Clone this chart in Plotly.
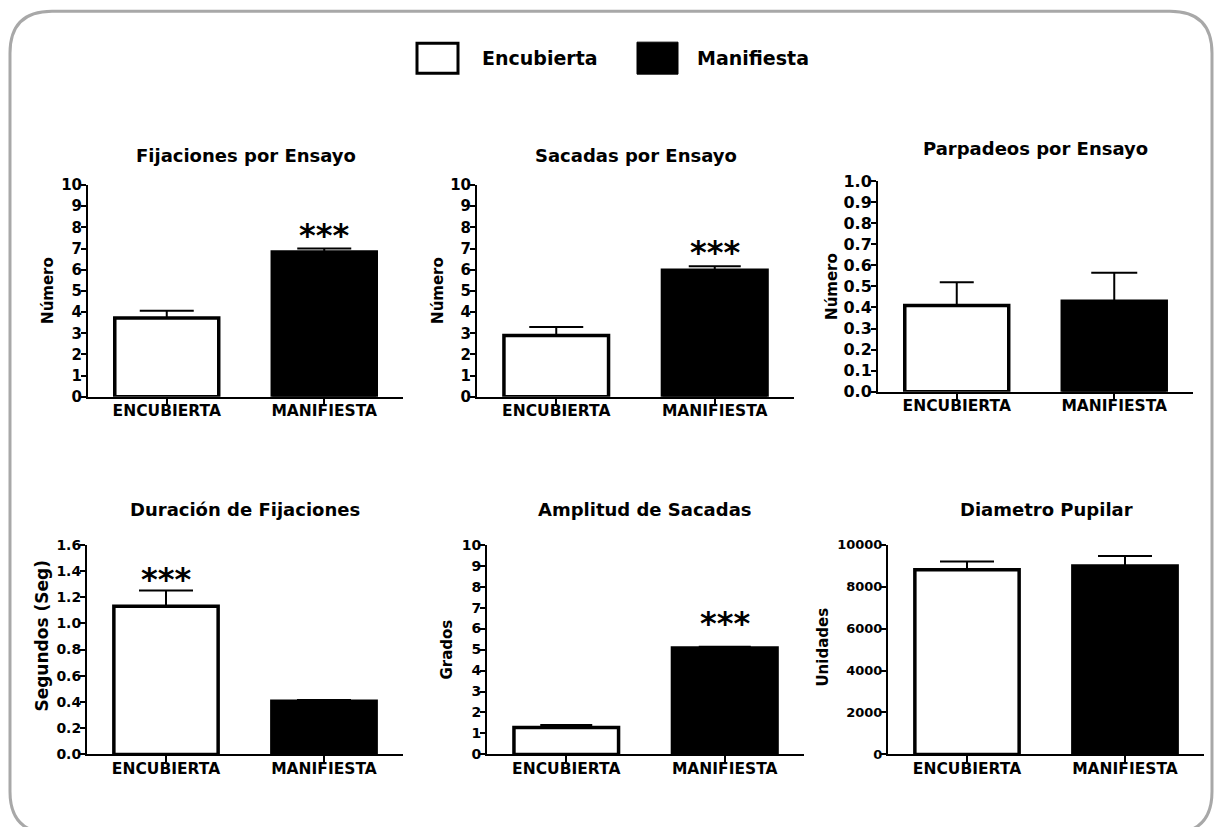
import plotly.graph_objects as go

W, H = 1215, 827

# ---------------- data ----------------
categories = ["ENCUBIERTA", "MANIFIESTA"]
legend_names = ["Encubierta", "Manifiesta"]
panel_titles = ["Fijaciones por Ensayo", "Sacadas por Ensayo", "Parpadeos por Ensayo",
                "Duración de Fijaciones", "Amplitud de Sacadas", "Diametro Pupilar"]
y_titles = ["Número", "Número", "Número", "Segundos (Seg)", "Grados", "Unidades"]

fijaciones_mean = [3.72, 6.84]
fijaciones_err = [0.34, 0.16]
sacadas_mean = [2.90, 5.97]
sacadas_err = [0.40, 0.19]
parpadeos_mean = [0.41, 0.43]
parpadeos_err = [0.11, 0.135]
duracion_mean = [1.13, 0.405]
duracion_err = [0.12, 0.01]
amplitud_mean = [1.28, 5.07]
amplitud_err = [0.13, 0.06]
diametro_mean = [8800, 8980]
diametro_err = [400, 480]

means = [fijaciones_mean, sacadas_mean, parpadeos_mean, duracion_mean, amplitud_mean, diametro_mean]
errs = [fijaciones_err, sacadas_err, parpadeos_err, duracion_err, amplitud_err, diametro_err]
# significance marker per panel: index of the bar marked, None if no marker
sig_bar = [1, 1, None, 0, 1, None]
sig_text = "***"

y_ranges = [[0, 10], [0, 10], [0, 1.0], [0, 1.6], [0, 10], [0, 10000]]
y_dticks = [1, 1, 0.1, 0.2, 1, 2000]
y_formats = ["d", "d", ".1f", ".1f", "d", "d"]

# ---------------- layout (pixel geometry) ----------------
x_dom_px = [(88, 403), (477, 794), (878, 1193), (87, 403), (487, 804), (888, 1204)]
y_dom_px = [(185, 397), (185, 397), (181, 392), (545, 755), (545, 755), (545, 755)]
title_y_px = [155, 155, 148, 510, 510, 510]
ytitle_pos_px = [(48, 291), (438, 291), (832, 287), (42, 636), (447, 650), (823, 648)]
ytitle_size = [15, 15, 15, 17, 15, 15]
ytick_size = [15, 15, 16, 14, 14, 13]
cap_w = [[27, 27], [27, 26], [17, 23], [27, 27], [26, 26], [27, 27]]
star_shift = [-7, -7, 0, -9, 3, 0]

FONT = "DejaVu Sans"

# the page is photographed with a small vertical offset/scale; compensate
OFF, SC = 8.8, 0.978


def px(x):
    return x / W


def py(y):
    return 1 - ((y - OFF) / SC) / H


fig = go.Figure()
fills = ["white", "black"]

for i in range(6):
    n = i + 1
    xa = "x" if n == 1 else f"x{n}"
    ya = "y" if n == 1 else f"y{n}"
    for j in range(2):
        fig.add_trace(go.Bar(
            x=[categories[j]], y=[means[i][j]],
            xaxis=xa, yaxis=ya, width=0.66,
            marker=dict(color=fills[j], line=dict(color="black", width=3.5)),
            error_y=dict(type="data", symmetric=False, array=[errs[i][j]], arrayminus=[0],
                         color="black", thickness=2, width=cap_w[i][j]),
            showlegend=False, hoverinfo="skip",
        ))
    xd = x_dom_px[i]
    yd = y_dom_px[i]
    fig.layout[f"xaxis{'' if n == 1 else n}"] = dict(
        domain=[px(xd[0]), px(xd[1])], anchor=ya, type="category",
        categoryorder="array", categoryarray=categories, range=[-0.5, 1.5],
        showline=True, linecolor="black", linewidth=2, ticks="outside", ticklen=6,
        tickwidth=2, tickcolor="black", showgrid=False, zeroline=False,
        tickfont=dict(family=FONT, size=15.5, color="black", weight="bold"),
        ticklabelstandoff=-7,
    )
    fig.layout[f"yaxis{'' if n == 1 else n}"] = dict(
        domain=[py(yd[1]), py(yd[0])], anchor=xa, range=y_ranges[i],
        dtick=y_dticks[i], tick0=0, tickformat=y_formats[i],
        showline=True, linecolor="black", linewidth=2, ticks="outside", ticklen=5,
        tickwidth=2, tickcolor="black", showgrid=False, zeroline=False,
        tickfont=dict(family=FONT, size=ytick_size[i], color="black", weight="bold"),
        ticklabelstandoff=-4,
    )
    # panel title
    fig.add_annotation(text=panel_titles[i], xref="paper", yref="paper",
                       x=px((xd[0] + xd[1]) / 2), y=py(title_y_px[i]),
                       xanchor="center", yanchor="middle", showarrow=False,
                       font=dict(family=FONT, size=18, color="black", weight="bold"))
    # y axis title
    fig.add_annotation(text=y_titles[i], xref="paper", yref="paper",
                       x=px(ytitle_pos_px[i][0]), y=py(ytitle_pos_px[i][1]),
                       xanchor="center", yanchor="middle", textangle=-90, showarrow=False,
                       font=dict(family=FONT, size=ytitle_size[i], color="black", weight="bold"))
    # significance stars
    if sig_bar[i] is not None:
        b = sig_bar[i]
        fig.add_annotation(text=sig_text, xref=xa, yref=ya,
                           x=categories[b], y=means[i][b] + errs[i][b],
                           xanchor="center", yanchor="bottom", yshift=star_shift[i],
                           showarrow=False,
                           font=dict(family=FONT, size=32, color="black", weight="bold"))

# legend drawn as boxes + labels
fig.add_shape(type="rect", xref="paper", yref="paper",
              x0=px(417), x1=px(458), y0=py(73), y1=py(43),
              line=dict(color="black", width=3), fillcolor="white")
fig.add_shape(type="rect", xref="paper", yref="paper",
              x0=px(637), x1=px(678), y0=py(74), y1=py(42),
              line=dict(color="black", width=1), fillcolor="black")
for name, xpos in zip(legend_names, [480, 695]):
    fig.add_annotation(text=name, xref="paper", yref="paper", x=px(xpos), y=py(58),
                       xanchor="left", yanchor="middle", showarrow=False,
                       font=dict(family=FONT, size=19, color="black", weight="bold"))

# rounded outer frame
x0, y0, x1, y1, r = 10, 11, 1212, 834, 42
pts = [
    ("M", (x0 + r, y0)), ("L", (x1 - r, y0)), ("Q", (x1, y0), (x1, y0 + r)),
    ("L", (x1, y1 - r)), ("Q", (x1, y1), (x1 - r, y1)), ("L", (x0 + r, y1)),
    ("Q", (x0, y1), (x0, y1 - r)), ("L", (x0, y0 + r)), ("Q", (x0, y0), (x0 + r, y0)),
]
path = ""
for p in pts:
    cmd = p[0]
    coords = " ".join(f"{px(a):.5f},{py(b):.5f}" for a, b in p[1:])
    path += f"{cmd} {coords} "
path += "Z"
fig.add_shape(type="path", path=path, xref="paper", yref="paper",
              line=dict(color="#a8a8a8", width=3))

fig.update_layout(
    width=W, height=H, margin=dict(l=0, r=0, t=0, b=0),
    paper_bgcolor="white", plot_bgcolor="white", barmode="overlay",
    showlegend=False,
)

fig.write_html("out.html")
